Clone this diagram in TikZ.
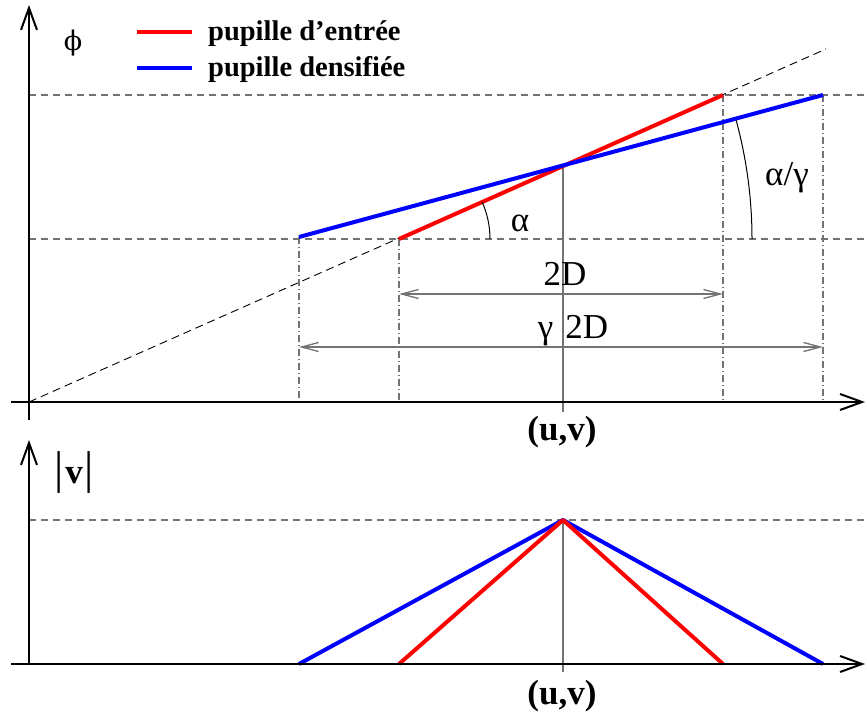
\documentclass[tikz,border=0pt]{standalone}
\usepackage{fontspec}
\setmainfont{Liberation Serif}
\newfontfamily\grec{DejaVu Serif}
\usetikzlibrary{arrows.meta}

\definecolor{gris}{gray}{0.45}
\definecolor{rouge}{rgb}{1,0,0}
\definecolor{bleu}{rgb}{0,0,1}

\tikzset{
  axe/.style={line width=2pt, -{Straight Barb[length=22pt,width=16pt,line width=2pt]}},
  pupE/.style={line width=4pt, rouge},
  pupD/.style={line width=4pt, bleu},
  niveau/.style={line width=1.3pt, gris, dash pattern=on 7pt off 5pt},
  diag/.style={line width=0.9pt, dash pattern=on 8pt off 5pt},
  tiret/.style={line width=1.3pt, gris, dash pattern=on 7pt off 3pt on 1pt off 3pt},
  milieu/.style={line width=1.5pt, gris},
  cote/.style={line width=1.3pt, gris, {Straight Barb[length=17pt,width=9pt]}-{Straight Barb[length=17pt,width=9pt]}},
  angle/.style={line width=1pt},
  lab/.style={inner sep=0pt, font=\fontsize{35}{40}\selectfont},
  labb/.style={inner sep=0pt, font=\bfseries\fontsize{35}{40}\selectfont},
  leg/.style={inner sep=0pt, font=\bfseries\fontsize{28.5}{34}\selectfont},
}

\begin{document}
\begin{tikzpicture}[x=1pt, y=-1pt, line cap=butt, line join=miter]

  %% ════ 上图：关键点 ════
  \coordinate (O)  at (29,402);
  \coordinate (C)  at (563,165);
  \coordinate (rL) at (399,239);
  \coordinate (rR) at (723,95);
  \coordinate (bL) at (299,237);
  \coordinate (bR) at (823,95);
  \coordinate (dE) at (826,49);
  \coordinate (Cb) at (563,412);

  %% ════ 虚线（水平 + 对角）════
  \draw[niveau] (29,95) -- (864,95);
  \draw[niveau] (29,239) -- (864,239);
  \draw[diag] (O) -- (dE);

  %% ════ 点划竖线 ════
  \draw[tiret] (bL) -- (bL |- O);
  \draw[tiret] (rL) -- (rL |- O);
  \draw[tiret] (rR) -- (rR |- O);
  \draw[tiret] (bR) -- (bR |- O);
  \draw[milieu] (C) -- (Cb);

  %% ════ 两条光瞳线 ════
  \draw[pupE] (rL) -- (rR);
  \draw[pupD] (bL) -- (bR);

  %% ════ 坐标轴 ════
  \draw[axe] (29,420) -- (29,5);
  \draw[axe] (11,402) -- (865,402);

  %% ════ 尺寸箭头 ════
  \coordinate (c2Da) at (399,294);
  \coordinate (c2Db) at (723,294);
  \coordinate (cg2Da) at (299,347);
  \coordinate (cg2Db) at (823,347);
  \draw[cote] (c2Da) -- (c2Db);
  \draw[cote] (cg2Da) -- (cg2Db);

  %% ════ 角度弧 ════
  \draw[angle] (490,239) arc[start angle=0, end angle=-24, radius=91];
  \draw[angle] (752,239) arc[start angle=0, end angle=-15.2, radius=453];

  %% ════ 下图 ════
  \coordinate (O2) at (29,664);
  \coordinate (P)  at (563,520);
  \coordinate (rL2) at (399,664);
  \coordinate (rR2) at (723,664);
  \coordinate (bL2) at (299,664);
  \coordinate (bR2) at (823,664);
  \coordinate (Pb) at (563,672);

  \draw[niveau] (29,520) -- (864,520);
  \draw[milieu] (P) -- (Pb);
  \draw[pupD, line join=round] (bL2) -- (P) -- (bR2);
  \draw[pupE, line join=round] (rL2) -- (P) -- (rR2);
  \draw[axe] (29,664) -- (29,440);
  \draw[axe] (11,664) -- (865,664);

  %% ════ 图例 ════
  \draw[pupE] (137,32) -- (192,32);
  \draw[pupD] (137,68) -- (192,68);
  \node[leg, anchor=base west] (legE) at (208,41) {pupille d’entrée};
  \node[leg, anchor=base west] (legD) at (208,77) {pupille densifiée};

  %% ════ 标签 ════
  \node[inner sep=0pt, anchor=base, font=\grec\fontsize{27}{32}\selectfont] (phi) at (73,51) {ϕ};
  \node[lab, anchor=base] (deuxD) at (565,285) {2D};
  \node[lab, anchor=base] (gdeuxD) at (573,338) {γ\hspace{12pt}2D};
  \node[lab, anchor=base] (alpha) at (520,232) {α};
  \node[lab, anchor=base] (alphag) at (787,186) {α/γ};
  \node[labb, anchor=base] (uvA) at (562,440) {(u,v)};
  \node[labb, anchor=base] (uvB) at (562,704) {(u,v)};
  \node[inner sep=0pt, anchor=base] (absv) at (74,483)
    {{\fontsize{46}{50}\selectfont|}\,{\bfseries\fontsize{35}{40}\selectfont v}\,{\fontsize{46}{50}\selectfont|}};

  % 钉死画布
  \pgfresetboundingbox
  \path[use as bounding box] (0,0) rectangle (867,719);
\end{tikzpicture}
\end{document}
